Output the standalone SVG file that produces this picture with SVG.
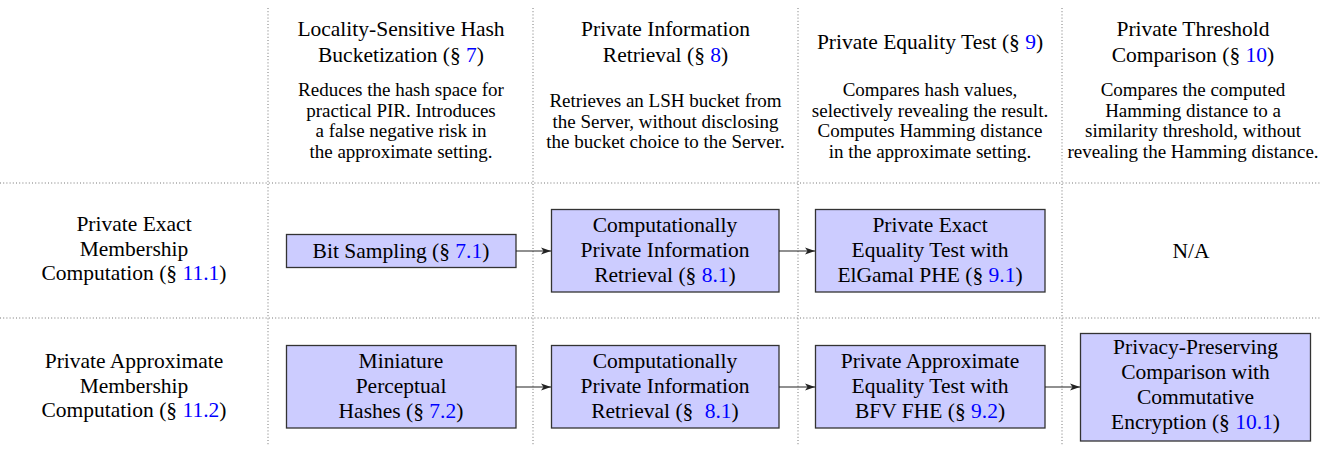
<svg xmlns="http://www.w3.org/2000/svg" width="1321" height="451" viewBox="0 0 1321 451">
<style>
text{font-family:"Liberation Serif","Times New Roman",serif;fill:#000;text-anchor:middle}
.h{font-size:21.5px}
.d{font-size:19px}
.n{font-size:21.5px}
.r{fill:#0000ff}
.grid{stroke:#666;stroke-width:0.9;stroke-dasharray:1 2.2;fill:none}
.box{fill:#ccccff;stroke:#333;stroke-width:1.3}
.con{stroke:#222;stroke-width:1.2;fill:none;marker-end:url(#arr)}
</style>
<defs>
<marker id="arr" viewBox="0 0 10 8" refX="10" refY="4" markerWidth="10" markerHeight="8" markerUnits="userSpaceOnUse" orient="auto">
<path d="M0,0.5 L10,4 L0,7.5 L2.5,4 z" fill="#222"/>
</marker>
</defs>
<g id="grid">
<line class="grid" x1="268" y1="8" x2="268" y2="446"/>
<line class="grid" x1="533" y1="8" x2="533" y2="446"/>
<line class="grid" x1="798" y1="8" x2="798" y2="446"/>
<line class="grid" x1="1062" y1="8" x2="1062" y2="446"/>
<line class="grid" x1="0" y1="183" x2="1321" y2="183"/>
<line class="grid" x1="0" y1="318" x2="1321" y2="318"/>
</g>
<g id="col1-header">
<text class="h" x="401" y="36">Locality-Sensitive Hash</text>
<text class="h" x="401" y="62">Bucketization (§ <tspan class="r">7</tspan>)</text>
<text class="d" x="401" y="96">Reduces the hash space for</text>
<text class="d" x="401" y="116.7">practical PIR. Introduces</text>
<text class="d" x="401" y="137.3">a false negative risk in</text>
<text class="d" x="401" y="158">the approximate setting.</text>
</g>
<g id="col2-header">
<text class="h" x="665.5" y="36">Private Information</text>
<text class="h" x="665.5" y="62">Retrieval (§ <tspan class="r">8</tspan>)</text>
<text class="d" x="665.5" y="107">Retrieves an LSH bucket from</text>
<text class="d" x="665.5" y="127.5">the Server, without disclosing</text>
<text class="d" x="665.5" y="148">the bucket choice to the Server.</text>
</g>
<g id="col3-header">
<text class="h" x="930" y="49">Private Equality Test (§ <tspan class="r">9</tspan>)</text>
<text class="d" x="930" y="96">Compares hash values,</text>
<text class="d" x="930" y="116.7">selectively revealing the result.</text>
<text class="d" x="930" y="137.3">Computes Hamming distance</text>
<text class="d" x="930" y="158">in the approximate setting.</text>
</g>
<g id="col4-header">
<text class="h" x="1193" y="36">Private Threshold</text>
<text class="h" x="1193" y="62">Comparison (§ <tspan class="r">10</tspan>)</text>
<text class="d" x="1193" y="96">Compares the computed</text>
<text class="d" x="1193" y="116.7">Hamming distance to a</text>
<text class="d" x="1193" y="137.3">similarity threshold, without</text>
<text class="d" x="1193" y="158">revealing the Hamming distance.</text>
</g>
<g id="row1-label">
<text class="n" x="134" y="231">Private Exact</text>
<text class="n" x="134" y="255.5">Membership</text>
<text class="n" x="134" y="280">Computation (§ <tspan class="r">11.1</tspan>)</text>
</g>
<g id="row2-label">
<text class="n" x="134" y="368">Private Approximate</text>
<text class="n" x="134" y="392.5">Membership</text>
<text class="n" x="134" y="417">Computation (§ <tspan class="r">11.2</tspan>)</text>
</g>
<g id="bit-sampling">
<rect class="box" x="286.5" y="234.5" width="229.5" height="33"/>
<text class="n" x="401" y="258">Bit Sampling (§ <tspan class="r">7.1</tspan>)</text>
</g>
<g id="cpir-1">
<rect class="box" x="551.5" y="209.5" width="227.5" height="82.5"/>
<text class="n" x="665" y="232">Computationally</text>
<text class="n" x="665" y="257">Private Information</text>
<text class="n" x="665" y="282">Retrieval (§ <tspan class="r">8.1</tspan>)</text>
</g>
<g id="pet-exact">
<rect class="box" x="815.5" y="209.5" width="229.5" height="82.5"/>
<text class="n" x="930" y="232">Private Exact</text>
<text class="n" x="930" y="257">Equality Test with</text>
<text class="n" x="930" y="282">ElGamal PHE (§ <tspan class="r">9.1</tspan>)</text>
</g>
<g id="na">
<text class="n" x="1191" y="258">N/A</text>
</g>
<g id="miniature">
<rect class="box" x="286.5" y="345.5" width="229.5" height="82.5"/>
<text class="n" x="401" y="368">Miniature</text>
<text class="n" x="401" y="393">Perceptual</text>
<text class="n" x="401" y="418">Hashes (§ <tspan class="r">7.2</tspan>)</text>
</g>
<g id="cpir-2">
<rect class="box" x="551.5" y="345.5" width="227.5" height="82.5"/>
<text class="n" x="665" y="368">Computationally</text>
<text class="n" x="665" y="393">Private Information</text>
<text class="n" x="665" y="418">Retrieval (§ <tspan class="r" dx="6">8.1</tspan>)</text>
</g>
<g id="pet-approx">
<rect class="box" x="815.5" y="345.5" width="229.5" height="82.5"/>
<text class="n" x="930" y="368">Private Approximate</text>
<text class="n" x="930" y="393">Equality Test with</text>
<text class="n" x="930" y="418">BFV FHE (§ <tspan class="r">9.2</tspan>)</text>
</g>
<g id="privacy-preserving">
<rect class="box" x="1080.5" y="333.5" width="230" height="107.5"/>
<text class="n" x="1195.5" y="354">Privacy-Preserving</text>
<text class="n" x="1195.5" y="379">Comparison with</text>
<text class="n" x="1195.5" y="404">Commutative</text>
<text class="n" x="1195.5" y="429">Encryption (§ <tspan class="r">10.1</tspan>)</text>
</g>
<g id="connectors">
<line class="con" x1="516" y1="251" x2="551" y2="251"/>
<line class="con" x1="779" y1="251" x2="815" y2="251"/>
<line class="con" x1="516" y1="387" x2="551" y2="387"/>
<line class="con" x1="779" y1="387" x2="815" y2="387"/>
<line class="con" x1="1045" y1="387" x2="1080" y2="387"/>
</g>
</svg>
